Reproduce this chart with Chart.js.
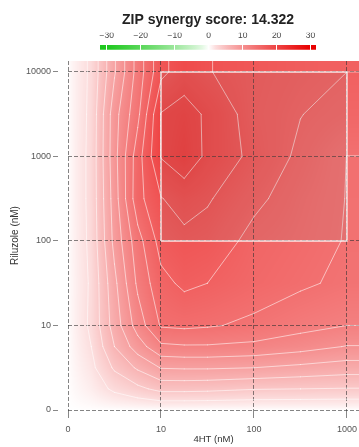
<!DOCTYPE html>
<html>
<head>
<meta charset="utf-8">
<script src="https://cdn.jsdelivr.net/npm/chart.js@4.4.0/dist/chart.umd.min.js"></script>
<style>
html, body { margin: 0; padding: 0; background: #fff; overflow: hidden; }
#wrap { position: relative; width: 359px; height: 447px; }
#main { position: absolute; left: 0; top: 0; }
#bar { position: absolute; left: 90px; top: 0; }
</style>
</head>
<body>
<div id="wrap">
  <canvas id="main" width="359" height="447"></canvas>
  <canvas id="bar" width="236" height="56"></canvas>
</div>
<script>
// --- data ---
const TITLE = 'ZIP synergy score: 14.322';
const X_TICKS = ['0', '10', '100', '1000'];          // 4HT (nM)
const Y_TICKS = ['0', '10', '100', '1000', '10000']; // Riluzole (nM)
const BAR_TICKS = [-30, -20, -10, 0, 10, 20, 30];

// sample positions on the dose axes (0 = no drug, 1 = 10 nM, 2 = 100 nM ...)
const X_POS = [0, 0.25, 0.5, 0.75, 1, 1.25, 1.5, 2, 2.5, 3];
const Y_POS = [0, 0.25, 0.5, 0.75, 1, 1.5, 2, 2.5, 3, 3.5, 4];

// synergy score per row (one row per Y_POS, values along X_POS)
const rowY0    = [0, 0, 0, 0, 0, 0, 0, 0, 0, 0];
const rowY025  = [0, 0.9, 2.4, 3.5, 4.6, 4.6, 4.5, 4.1, 4.0, 3.9];
const rowY05   = [0, 1.5, 4.3, 6.3, 8.1, 8.2, 8.2, 8.0, 7.5, 7.0];
const rowY075  = [0, 2.0, 6.0, 9.0, 11.6, 11.8, 11.8, 11.5, 10.8, 9.9];
const rowY1    = [0, 2.4, 6.9, 10.9, 14.2, 14.4, 14.2, 13.6, 12.7, 12.0];
const rowY15   = [0, 2.3, 7.5, 12.4, 15.4, 16.4, 16.0, 15.0, 14.3, 13.6];
const rowY2    = [0, 2.5, 8.6, 13.2, 16.8, 17.5, 17.2, 15.4, 14.7, 13.9];
const rowY25   = [0, 2.6, 9.0, 15.3, 17.9, 18.8, 18.2, 16.45, 15.0, 13.95];
const rowY3    = [0, 2.6, 9.3, 15.1, 20.1, 21.3, 19.6, 17.45, 15.6, 13.98];
const rowY35   = [0, 2.5, 9.2, 13.5, 20.1, 20.8, 19.7, 17.05, 16.05, 15.3];
const rowY4    = [0, 2.4, 7.8, 12.8, 17.5, 19.0, 18.1, 17.2, 16.5, 16.0];
const synergy = [rowY0, rowY025, rowY05, rowY075, rowY1, rowY15, rowY2, rowY25, rowY3, rowY35, rowY4];

const LEVELS = [2, 4, 6, 8, 10, 12, 14, 16, 18, 20];
const BOX_X = [1, 3]; // most synergistic area
const BOX_Y = [2, 4];

Chart.defaults.font.family = '"Liberation Sans", Arial, sans-serif';

function scoreColor(v) {
    const t = Math.pow(Math.min(Math.abs(v), 30) / 30, 0.76);
    const end = v >= 0 ? [232, 0, 0] : [30, 200, 30];
    return end.map(c => Math.round(255 + (c - 255) * t));
}
function rgb(c) { return `rgb(${c[0]},${c[1]},${c[2]})`; }

function locate(arr, v) {
    const n = arr.length - 1;
    if (v <= arr[0]) return [0, 0];
    if (v >= arr[n]) return [n - 1, 1];
    let i = 0;
    while (arr[i + 1] < v) i++;
    return [i, (v - arr[i]) / (arr[i + 1] - arr[i])];
}
function sample(x, y) {
    const [i, fx] = locate(X_POS, x);
    const [j, fy] = locate(Y_POS, y);
    const z = synergy;
    return z[j][i] * (1 - fx) * (1 - fy) + z[j][i + 1] * fx * (1 - fy)
         + z[j + 1][i] * (1 - fx) * fy + z[j + 1][i + 1] * fx * fy;
}

// heat map + contour lines, drawn through the chart scales
const heatPlugin = {
    id: 'heat',
    beforeDraw(chart) {
        const {ctx, chartArea: a, scales: {x, y}} = chart;
        const w = Math.round(a.right - a.left), h = Math.round(a.bottom - a.top);
        const off = document.createElement('canvas');
        off.width = w; off.height = h;
        const octx = off.getContext('2d');
        const img = octx.createImageData(w, h);
        for (let py = 0; py < h; py++) {
            const yv = y.getValueForPixel(a.top + py + 0.5);
            for (let px = 0; px < w; px++) {
                const xv = x.getValueForPixel(a.left + px + 0.5);
                const c = scoreColor(sample(xv, yv));
                const k = (py * w + px) * 4;
                img.data[k] = c[0]; img.data[k + 1] = c[1]; img.data[k + 2] = c[2]; img.data[k + 3] = 255;
            }
        }
        octx.putImageData(img, 0, 0);
        ctx.drawImage(off, a.left, a.top);
    },
    beforeDatasetsDraw(chart) {
        const {ctx, chartArea: a, scales: {x, y}} = chart;
        // extend the grid to the axis ends with the edge values
        const xs = X_POS.concat([x.max]);
        const ys = Y_POS.concat([y.max]);
        const z = synergy.map(r => r.concat([r[r.length - 1]]));
        z.push(z[z.length - 1].slice());
        ctx.save();
        ctx.beginPath();
        ctx.rect(a.left, a.top, a.right - a.left, a.bottom - a.top);
        ctx.clip();
        ctx.strokeStyle = 'rgba(255,255,255,0.55)';
        ctx.lineWidth = 1;
        ctx.lineCap = 'round';
        ctx.lineJoin = 'round';
        LEVELS.forEach(L => {
            ctx.beginPath();
            for (let j = 0; j < ys.length - 1; j++) {
                for (let i = 0; i < xs.length - 1; i++) {
                    const p = [
                        [xs[i], ys[j], z[j][i]],
                        [xs[i + 1], ys[j], z[j][i + 1]],
                        [xs[i + 1], ys[j + 1], z[j + 1][i + 1]],
                        [xs[i], ys[j + 1], z[j + 1][i]]
                    ];
                    const pts = [];
                    for (let e = 0; e < 4; e++) {
                        const A = p[e], B = p[(e + 1) % 4];
                        if ((A[2] < L) !== (B[2] < L)) {
                            const t = (L - A[2]) / (B[2] - A[2]);
                            pts.push([A[0] + (B[0] - A[0]) * t, A[1] + (B[1] - A[1]) * t]);
                        }
                    }
                    let segs = [];
                    if (pts.length === 2) segs = [[pts[0], pts[1]]];
                    else if (pts.length === 4) {
                        const centre = (p[0][2] + p[1][2] + p[2][2] + p[3][2]) / 4;
                        if ((centre < L) === (p[0][2] < L)) segs = [[pts[0], pts[1]], [pts[2], pts[3]]];
                        else segs = [[pts[3], pts[0]], [pts[1], pts[2]]];
                    }
                    segs.forEach(s => {
                        ctx.moveTo(x.getPixelForValue(s[0][0]), y.getPixelForValue(s[0][1]));
                        ctx.lineTo(x.getPixelForValue(s[1][0]), y.getPixelForValue(s[1][1]));
                    });
                }
            }
            ctx.stroke();
        });
        ctx.restore();
    }
};

new Chart(document.getElementById('main'), {
    type: 'scatter',
    data: {
        datasets: [{
            data: [
                {x: BOX_X[0], y: BOX_Y[0]}, {x: BOX_X[1], y: BOX_Y[0]},
                {x: BOX_X[1], y: BOX_Y[1]}, {x: BOX_X[0], y: BOX_Y[1]},
                {x: BOX_X[0], y: BOX_Y[0]}
            ],
            showLine: true,
            fill: 'shape',
            backgroundColor: 'rgba(120,120,120,0.11)',
            borderColor: 'rgba(255,255,255,0.85)',
            borderWidth: 1.5,
            pointRadius: 0,
            tension: 0
        }]
    },
    options: {
        responsive: false,
        animation: false,
        layout: { padding: { top: 61, left: 0, right: 0, bottom: 0 } },
        plugins: { legend: { display: false }, tooltip: { enabled: false } },
        scales: {
            x: {
                type: 'linear', min: 0, max: 3.13,
                afterBuildTicks: s => { s.ticks = X_TICKS.map((_, i) => ({ value: i })); },
                afterFit: s => { s.height = 37; s.paddingLeft = 0; s.paddingRight = 0; },
                ticks: { callback: v => X_TICKS[v], font: { size: 9 }, color: '#555', padding: 6, maxRotation: 0, autoSkip: false },
                grid: { color: 'rgba(50,50,50,0.6)', lineWidth: 1, tickColor: '#888', tickLength: 8 },
                border: { display: false, dash: [4, 2] },
                title: { display: true, text: '4HT (nM)', color: '#333', font: { size: 9.5, lineHeight: 1.2 }, padding: { top: 0, bottom: 2 } }
            },
            y: {
                type: 'linear', min: 0, max: 4.13,
                afterBuildTicks: s => { s.ticks = Y_TICKS.map((_, i) => ({ value: i })); },
                afterFit: s => { s.width = 68; s.paddingTop = 0; s.paddingBottom = 0; },
                ticks: { callback: v => Y_TICKS[v], font: { size: 9 }, color: '#555', padding: 2, autoSkip: false },
                grid: { color: 'rgba(50,50,50,0.6)', lineWidth: 1, tickColor: '#888', tickLength: 15, tickBorderDash: [5, 10] },
                border: { display: false, dash: [4, 2] },
                title: { display: true, text: 'Riluzole (nM)', color: '#333', font: { size: 10, lineHeight: 1.2 }, padding: { top: 9, bottom: 0 } }
            }
        }
    },
    plugins: [heatPlugin]
});

// colour key with title
new Chart(document.getElementById('bar'), {
    type: 'bar',
    data: {
        labels: [''],
        datasets: [{
            data: [[-32, 31.6]],
            barThickness: 4,
            borderWidth: 0,
            borderSkipped: false,
            backgroundColor: c => {
                const chart = c.chart;
                if (!chart.chartArea) return '#fff';
                const xs = chart.scales.x;
                const g = chart.ctx.createLinearGradient(xs.getPixelForValue(-30), 0, xs.getPixelForValue(30), 0);
                for (let v = -30; v <= 30; v += 2) g.addColorStop((v + 30) / 60, rgb(scoreColor(v)));
                return g;
            }
        }]
    },
    options: {
        indexAxis: 'y',
        responsive: false,
        animation: false,
        layout: { padding: { left: 10, right: 10, bottom: 6, top: 0 } },
        plugins: {
            legend: { display: false },
            tooltip: { enabled: false },
            title: { display: true, text: TITLE, color: '#222', font: { size: 14, weight: 'bold' }, padding: { top: 12, bottom: 4 } }
        },
        scales: {
            x: {
                type: 'linear', position: 'top', min: -32, max: 31.6,
                afterBuildTicks: s => { s.ticks = BAR_TICKS.map(v => ({ value: v })); },
                afterFit: s => { s.height = 12; },
                ticks: { callback: v => String(v).replace('-', '\u2212'), font: { size: 8.5 }, color: '#444', padding: 4, maxRotation: 0, autoSkip: false },
                grid: { color: '#fff', lineWidth: 1, drawTicks: false, z: 1 },
                border: { display: false }
            },
            y: { display: false }
        }
    }
});
</script>
</body>
</html>
